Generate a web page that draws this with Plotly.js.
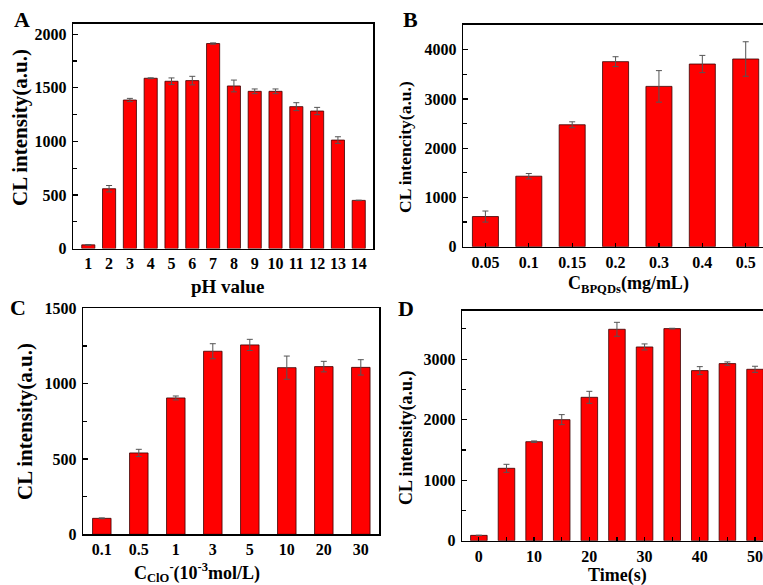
<!DOCTYPE html>
<html>
<head>
<meta charset="utf-8">
<script src="https://cdn.plot.ly/plotly-3.0.1.min.js"></script>
<style>
html,body{margin:0;padding:0;overflow:hidden;background:#fff;width:763px;height:585px;}
#chart{width:780px;height:585px;}
</style>
</head>
<body>
<div id="chart"></div>
<script>
// ---- Data ----
const phValues = [1,2,3,4,5,6,7,8,9,10,11,12,13,14];
const phIntensity = [34,558,1386,1589,1561,1567,1913,1517,1467,1467,1324,1283,1012,449];
const phError = [3,30,15,4,31,40,6,55,22,22,37,34,31,2];

const bpqdsCats = ["0.05","0.1","0.15","0.2","0.3","0.4","0.5"];
const bpqdsIntensity = [612,1431,2475,3756,3254,3708,3810];
const bpqdsError = [112,55,60,100,320,175,350];

const cloCats = ["0.1","0.5","1","3","5","10","20","30"];
const cloIntensity = [106,540,905,1215,1257,1106,1113,1108];
const cloError = [3,24,13,50,37,77,35,51];

const timeValues = [0,5,10,15,20,25,30,35,40,45,50];
const timeIntensity = [88,1196,1636,2000,2369,3493,3201,3504,2810,2926,2832];
const timeError = [3,66,12,83,99,115,50,6,66,28,50];
const timeTickVals = [0,10,20,30,40,50];

// ---- Layout helpers ----
const W = 780, H = 585;
const fx = p => p / W;
const fy = p => 1 - p / H;
const font = "Liberation Serif, Times New Roman, serif";

function bar(x, y, err, xa, ya, width) {
  return {
    type: 'bar', x: x, y: y, xaxis: xa, yaxis: ya, width: width,
    marker: {color: '#ff0000', line: {color: '#3a0000', width: 0.8}},
    error_y: {type: 'data', array: err, visible: true, color: '#555', thickness: 1, width: 3},
    showlegend: false, hoverinfo: 'x+y'
  };
}

const data = [
  bar(phValues, phIntensity, phError, 'x', 'y', 0.63),
  bar(bpqdsCats, bpqdsIntensity, bpqdsError, 'x2', 'y2', 0.6),
  bar(cloCats, cloIntensity, cloError, 'x3', 'y3', 0.5),
  bar(timeValues, timeIntensity, timeError, 'x4', 'y4', 3)
];

const tickFont = {family: font, size: 16, color: '#000', weight: 'bold'};
function yax(domain, range, dtick, minorDtick) {
  return {
    domain: domain, range: range, dtick: dtick, tick0: 0,
    showline: true, linecolor: '#000', linewidth: 1.6, mirror: true,
    ticks: 'inside', ticklen: 5, tickwidth: 1.2, tickcolor: '#000',
    minor: {dtick: minorDtick, ticks: 'inside', ticklen: 4, tickwidth: 1.2, tickcolor: '#000'},
    showgrid: false, zeroline: false, tickfont: tickFont, ticklabelstandoff: 2
  };
}
function xax(domain, range, extra) {
  return Object.assign({
    domain: domain, range: range,
    showline: true, linecolor: '#000', linewidth: 1.6, mirror: true,
    showgrid: false, zeroline: false, tickfont: tickFont, ticks: ''
  }, extra || {});
}

function ann(text, x, y, size, rot) {
  return {
    text: text, xref: 'paper', yref: 'paper', x: fx(x), y: fy(y),
    xanchor: 'center', yanchor: 'middle', showarrow: false, textangle: rot || 0,
    font: {family: font, size: size, color: '#000', weight: 'bold'}
  };
}

const layout = {
  width: W, height: H,
  margin: {l: 0, r: 0, t: 0, b: 0},
  paper_bgcolor: '#fff', plot_bgcolor: '#fff',
  bargap: 0,
  xaxis: xax([fx(73.3), fx(373.3)], [0.28, 14.7], {tickvals: phValues, anchor: 'y'}),
  yaxis: Object.assign(yax([fy(248.5), fy(23.5)], [0, 2100], 500, 250), {anchor: 'x', tickvals: [0,500,1000,1500,2000]}),
  xaxis2: xax([fx(463.3), fx(767.4)], [-0.51, 6.5], {type: 'category', anchor: 'y2', ticks: 'inside', ticklen: 4, tickwidth: 1.2, tickcolor: '#000'}),
  yaxis2: Object.assign(yax([fy(246.7), fy(25)], [0, 4500], 1000, 500), {anchor: 'x2', tickvals: [0,1000,2000,3000,4000]}),
  xaxis3: xax([fx(83.3), fx(379.3)], [-0.5, 7.5], {type: 'category', anchor: 'y3'}),
  yaxis3: Object.assign(yax([fy(534.3), fy(308.3)], [0, 1500], 500, 250), {anchor: 'x3', tickvals: [0,500,1000,1500]}),
  xaxis4: xax([fx(462.3), fx(771.6)], [-3, 53], {anchor: 'y4', tickvals: timeTickVals, ticks: 'inside', ticklen: 4, tickwidth: 1.2, tickcolor: '#000',
    minor: {dtick: 5, tick0: 0, ticks: 'inside', ticklen: 4, tickwidth: 1.2, tickcolor: '#000'}}),
  yaxis4: Object.assign(yax([fy(540.7), fy(310.7)], [0, 3800], 1000, 500), {anchor: 'x4', tickvals: [0,1000,2000,3000]}),
  annotations: [
    ann('A', 22, 20, 22),
    ann('B', 410, 20, 22),
    ann('C', 18, 307, 22),
    ann('D', 406, 308, 22),
    ann('CL intensity(a.u.)', 20, 128, 21, -90),
    ann('CL intencity(a.u.)', 405, 147, 17.5, -90),
    ann('CL intensity(a.u.)', 25, 422, 21, -90),
    ann('CL intensity(a.u.)', 406, 438, 18, -90),
    ann('pH value', 227, 286, 19),
    ann('C<sub>BPQDs</sub>(mg/mL)', 628, 284, 18),
    ann('C<sub>ClO</sub><sup>-</sup>(10<sup>-3</sup>mol/L)', 197, 572, 18),
    ann('Time(s)', 617, 575, 18)
  ]
};

Plotly.newPlot('chart', data, layout, {staticPlot: true, displayModeBar: false});
</script>
</body>
</html>
